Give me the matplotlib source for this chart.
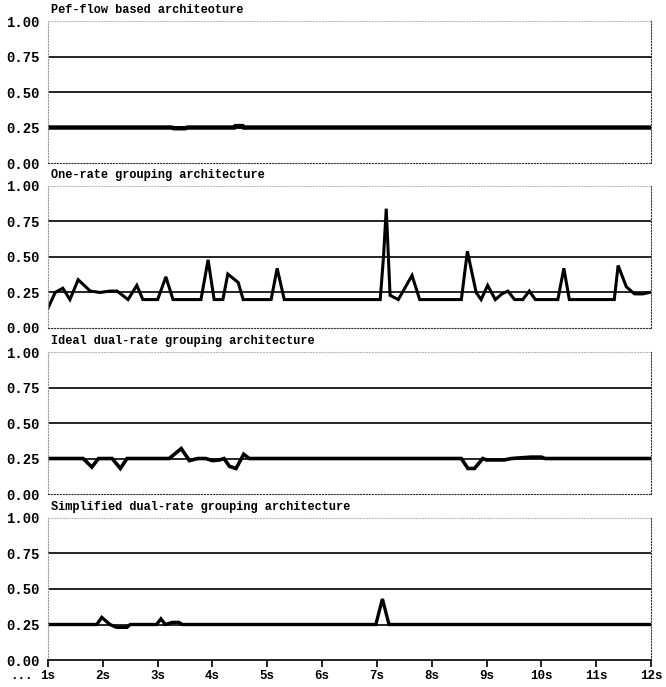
import matplotlib
matplotlib.use('Agg')
import matplotlib.pyplot as plt

# panel titles, as printed (typos kept)
titles = ['Pef-flow based architeoture',
          'One-rate grouping architecture',
          'Ideal dual-rate grouping architecture',
          'Simplified dual-rate grouping architecture']

# per-flow
t_perflow = [1.0, 3.25, 3.3, 3.5, 3.55, 4.4, 4.42, 4.55, 4.57, 12.0]
v_perflow = [0.25, 0.25, 0.245, 0.245, 0.25, 0.25, 0.26, 0.26, 0.25, 0.25]

# one-rate grouping
t_onerate = [1.0, 1.13, 1.27, 1.40, 1.55, 1.77, 1.95, 2.13, 2.26, 2.46, 2.62, 2.73,
             3.0, 3.15, 3.28, 3.79, 3.92, 4.03, 4.19, 4.28, 4.47, 4.56, 5.07, 5.18,
             5.31, 7.06, 7.12, 7.17, 7.24, 7.39, 7.64, 7.78, 8.54, 8.65, 8.81, 8.90,
             9.02, 9.16, 9.28, 9.39, 9.51, 9.66, 9.78, 9.89, 10.30, 10.41, 10.51,
             11.33, 11.40, 11.55, 11.70, 11.85, 11.97]
v_onerate = [0.14, 0.25, 0.28, 0.20, 0.34, 0.26, 0.25, 0.26, 0.26, 0.20, 0.30, 0.20,
             0.20, 0.36, 0.20, 0.20, 0.48, 0.20, 0.20, 0.38, 0.32, 0.20, 0.20, 0.42,
             0.20, 0.20, 0.50, 0.84, 0.23, 0.20, 0.37, 0.20, 0.20, 0.54, 0.25, 0.20,
             0.30, 0.20, 0.24, 0.26, 0.20, 0.20, 0.26, 0.20, 0.20, 0.42, 0.20, 0.20,
             0.44, 0.29, 0.24, 0.24, 0.25]

# ideal dual-rate grouping
t_ideal = [1.0, 1.64, 1.80, 1.92, 2.17, 2.32, 2.44, 3.21, 3.43, 3.58, 3.73, 3.88,
           4.0, 4.13, 4.21, 4.31, 4.43, 4.57, 4.67, 8.54, 8.66, 8.78, 8.93, 9.0,
           9.32, 9.45, 9.81, 10.0, 10.07, 12.0]
v_ideal = [0.25, 0.25, 0.19, 0.25, 0.25, 0.18, 0.25, 0.25, 0.32, 0.235, 0.25, 0.25,
           0.235, 0.24, 0.25, 0.195, 0.18, 0.28, 0.25, 0.25, 0.18, 0.18, 0.25, 0.24,
           0.24, 0.25, 0.26, 0.26, 0.25, 0.25]

# simplified dual-rate grouping
t_simple = [1.0, 1.89, 1.98, 2.13, 2.25, 2.44, 2.5, 2.98, 3.06, 3.14, 3.27, 3.39,
            3.45, 6.98, 7.1, 7.22, 12.0]
v_simple = [0.25, 0.25, 0.30, 0.25, 0.23, 0.23, 0.25, 0.25, 0.29, 0.25, 0.265, 0.265,
            0.25, 0.25, 0.43, 0.25, 0.25]

yticks = [0.0, 0.25, 0.5, 0.75, 1.0]
ytick_labels = ['0.00', '0.25', '0.50', '0.75', '1.00']
xticks = list(range(1, 13))
xtick_labels = ['%ds' % s for s in xticks]

series = [(t_perflow, v_perflow, 3.2),
          (t_onerate, v_onerate, 2.2),
          (t_ideal, v_ideal, 2.6),
          (t_simple, v_simple, 2.4)]

font = 'Liberation Mono'

fig = plt.figure(figsize=(6.66, 6.87), dpi=100)
bottoms = [0.7627, 0.5226, 0.2809, 0.0393]
height = 0.2067
left, width = 0.0721, 0.9054

for i, (t, v, lw) in enumerate(series):
    ax = fig.add_axes([left, bottoms[i], width, height])
    ax.set_xlim(1, 12)
    ax.set_ylim(0, 1)

    # horizontal reference lines
    for g in [0.25, 0.5, 0.75]:
        ax.axhline(g, color='black', lw=1.2, zorder=1)

    ax.plot(t, v, color='black', lw=lw, solid_joinstyle='miter', zorder=2)

    ax.set_yticks(yticks)
    ax.set_yticklabels(ytick_labels, fontfamily=font, fontweight='bold', fontsize=10)
    ax.tick_params(axis='y', length=0, pad=6)

    ax.spines['left'].set_linestyle(':')
    ax.spines['left'].set_color('#999999')
    ax.spines['top'].set_linestyle(':')
    ax.spines['top'].set_color('#bbbbbb')
    ax.spines['right'].set_linestyle(':')
    ax.spines['right'].set_color('#333333')

    ax.set_xticks(xticks)
    if i < 3:
        ax.spines['bottom'].set_linestyle(':')
        ax.spines['bottom'].set_color('#333333')
        ax.tick_params(axis='x', length=0, labelbottom=False)
    else:
        ax.spines['bottom'].set_color('black')
        ax.spines['bottom'].set_linewidth(1.2)
        ax.set_xticklabels(xtick_labels, fontfamily=font, fontweight='bold', fontsize=9)
        ax.tick_params(axis='x', length=5, width=1.2, direction='out', pad=2)

    ax.text(0.005, 1.075, titles[i], transform=ax.transAxes, fontfamily=font,
            fontweight='bold', fontsize=8.6, va='center', ha='left')

fig.text(0.015, 0.012, '...', fontfamily=font, fontweight='bold', fontsize=9)

fig.savefig('out.png', dpi=100)
